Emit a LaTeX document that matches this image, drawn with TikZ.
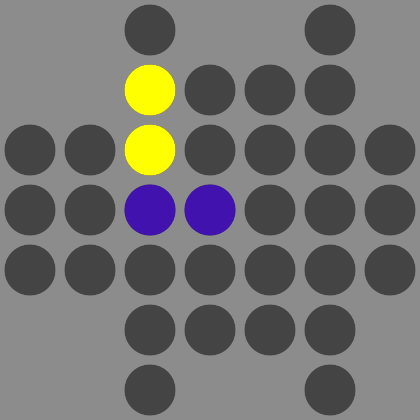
\documentclass[tikz,border=0pt]{standalone}
\usepackage{xcolor}
\usepackage{tikz}
\definecolor{boardgray}{HTML}{8C8C8C}
\definecolor{pegdark}{HTML}{444444}
\definecolor{pegpurple}{HTML}{4212AE}
\definecolor{pegyellow}{HTML}{FFFF00}

\begin{document}
\begin{tikzpicture}[peg/.style={circle,fill=pegdark,inner sep=0pt,minimum size=0.85cm},
  sel/.style={peg,fill=pegyellow},tgt/.style={peg,fill=pegpurple}]

  %% board
  \fill[boardgray] (0,0) rectangle (7,-7);
  \useasboundingbox (0,0) rectangle (7,-7);

  %% full rows
  \foreach \r in {2,3,4}
    \foreach \c in {0,...,6}
      \node[peg] (p-\r-\c) at (\c+0.5,-\r-0.5) {};
  % partial rows
  \foreach \c in {2,3,4,5} {
    \node[peg] (p-1-\c) at (\c+0.5,-1.5) {};
    \node[peg] (p-5-\c) at (\c+0.5,-5.5) {};
  }
  \foreach \c in {2,5} {
    \node[peg] (p-0-\c) at (\c+0.5,-0.5) {};
    \node[peg] (p-6-\c) at (\c+0.5,-6.5) {};
  }

  %% highlighted pegs
  \node[sel] (s-1) at (p-1-2) {};
  \node[sel] (s-2) at (p-2-2) {};
  \node[tgt] (t-1) at (p-3-2) {};
  \node[tgt] (t-2) at (p-3-3) {};

\end{tikzpicture}
\end{document}
